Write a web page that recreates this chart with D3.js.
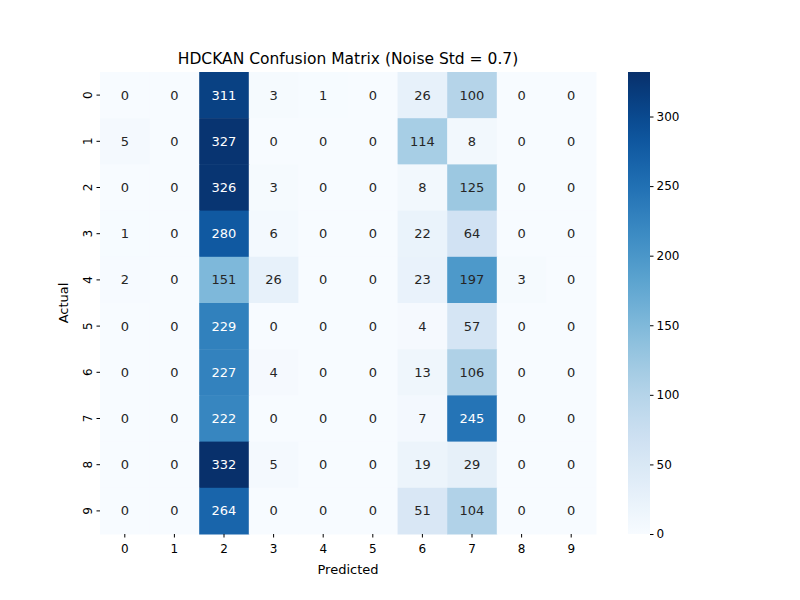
<!DOCTYPE html>
<html><head><meta charset="utf-8">
<script src="https://cdn.jsdelivr.net/npm/d3@7"></script>
<style>body{margin:0;background:#fff;font-family:"DejaVu Sans",sans-serif}</style>
</head><body><svg id="chart" width="800" height="600"></svg>
<script>
const labels = ['0','1','2','3','4','5','6','7','8','9'];
const matrix = [
  [0,0,311,3,1,0,26,100,0,0],
  [5,0,327,0,0,0,114,8,0,0],
  [0,0,326,3,0,0,8,125,0,0],
  [1,0,280,6,0,0,22,64,0,0],
  [2,0,151,26,0,0,23,197,3,0],
  [0,0,229,0,0,0,4,57,0,0],
  [0,0,227,4,0,0,13,106,0,0],
  [0,0,222,0,0,0,7,245,0,0],
  [0,0,332,5,0,0,19,29,0,0],
  [0,0,264,0,0,0,51,104,0,0]
];
const cbTicks = [0,50,100,150,200,250,300];

const svg = d3.select('#chart');
const mLeft = 100, mRight = 596, mTop = 72, mBottom = 534;
const vmax = d3.max(matrix.flat());
const color = d3.scaleSequential(d3.interpolateBlues).domain([0, vmax]);
const x = d3.scaleBand().domain(labels).range([mLeft, mRight]);
const y = d3.scaleBand().domain(labels).range([mTop, mBottom]);

const cells = [];
matrix.forEach((row, i) => row.forEach((v, j) => cells.push({r: labels[i], c: labels[j], v})));

svg.selectAll('rect.cell').data(cells).enter().append('rect')
  .attr('x', d => x(d.c)).attr('y', d => y(d.r))
  .attr('width', x.bandwidth() + 0.5).attr('height', y.bandwidth() + 0.5)
  .attr('fill', d => color(d.v));

svg.selectAll('text.val').data(cells).enter().append('text')
  .attr('x', d => x(d.c) + x.bandwidth() / 2).attr('y', d => y(d.r) + y.bandwidth() / 2)
  .attr('text-anchor', 'middle').attr('dominant-baseline', 'central')
  .attr('font-size', 13)
  .attr('fill', d => d.v > 205 ? '#ffffff' : '#262626')
  .text(d => d.v);

const xAxis = svg.append('g').attr('transform', `translate(0,${mBottom})`)
  .call(d3.axisBottom(x).tickSizeOuter(0).tickSize(3.5));
xAxis.select('.domain').remove();
xAxis.selectAll('text').attr('font-size', 12).attr('font-family', 'DejaVu Sans').attr('dy', '1em');

const yAxis = svg.append('g').attr('transform', `translate(${mLeft},0)`)
  .call(d3.axisLeft(y).tickSizeOuter(0).tickSize(3.5));
yAxis.select('.domain').remove();
yAxis.selectAll('text').attr('font-size', 12).attr('font-family', 'DejaVu Sans')
  .attr('x', 0).attr('dy', 0)
  .attr('transform', 'translate(-12,0) rotate(-90)')
  .attr('text-anchor', 'middle').attr('dominant-baseline', 'central');

svg.append('text').attr('x', (mLeft + mRight) / 2).attr('y', 574).attr('text-anchor', 'middle')
  .attr('font-size', 13).text('Predicted');
svg.append('text').attr('transform', `translate(68,${(mTop + mBottom) / 2}) rotate(-90)`)
  .attr('text-anchor', 'middle').attr('font-size', 13).text('Actual');
svg.append('text').attr('x', (mLeft + mRight) / 2).attr('y', 64).attr('text-anchor', 'middle')
  .attr('font-size', 15.5).text('HDCKAN Confusion Matrix (Noise Std = 0.7)');

// colorbar
const cbX = 628, cbW = 22;
const cbScale = d3.scaleLinear().domain([0, vmax]).range([mBottom, mTop]);
const defs = svg.append('defs');
const grad = defs.append('linearGradient').attr('id', 'cb').attr('x1', 0).attr('y1', 1).attr('x2', 0).attr('y2', 0);
d3.range(0, 1.0001, 0.05).forEach(t => grad.append('stop').attr('offset', t).attr('stop-color', d3.interpolateBlues(t)));
svg.append('rect').attr('x', cbX).attr('y', mTop).attr('width', cbW).attr('height', mBottom - mTop).attr('fill', 'url(#cb)');
const cbAxis = svg.append('g').attr('transform', `translate(${cbX + cbW},0)`)
  .call(d3.axisRight(cbScale).tickValues(cbTicks).tickSize(3.5));
cbAxis.select('.domain').remove();
cbAxis.selectAll('text').attr('font-size', 12).attr('font-family', 'DejaVu Sans');
</script></body></html>
